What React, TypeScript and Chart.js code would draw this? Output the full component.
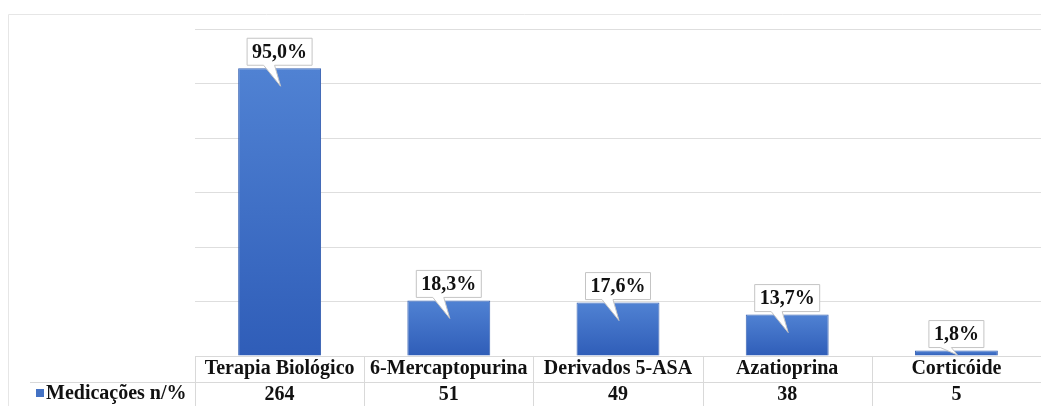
import React, { useEffect, useRef } from "react";
import { Chart, registerables } from "chart.js";

Chart.register(...registerables);

const categories = ["Terapia Biológico", "6-Mercaptopurina", "Derivados 5-ASA", "Azatioprina", "Corticóide"];
const counts = [264, 51, 49, 38, 5];
const percentLabels = ["95,0%", "18,3%", "17,6%", "13,7%", "1,8%"];
const seriesName = "Medicações n/%";
const yMax = 300;
const yStep = 50;

const FONT = 'bold 20px "Liberation Serif", "Times New Roman", serif';
const GRID = "#dedede";

const tablePlugin = {
  id: "tableAndCallouts",
  afterDatasetsDraw(chart: any) {
    const { ctx, chartArea } = chart;
    const meta = chart.getDatasetMeta(0);
    const yScale = chart.scales.y;
    const base = yScale.getPixelForValue(0);
    ctx.save();
    ctx.font = FONT;
    ctx.textAlign = "center";
    ctx.textBaseline = "middle";
    meta.data.forEach((bar: any, i: number) => {
      const cx = bar.x;
      const top = bar.y;
      const label = percentLabels[i];
      const tw = ctx.measureText(label).width;
      const w = tw + 10;
      const h = 27;
      const bottom = top - 3;
      const L = cx - w / 2;
      const R = cx + w / 2;
      const T = bottom - h;
      const tipY = Math.min(bottom + 21, base - 1);
      ctx.beginPath();
      ctx.moveTo(L, T);
      ctx.lineTo(R, T);
      ctx.lineTo(R, bottom);
      ctx.lineTo(cx - 5, bottom);
      ctx.lineTo(cx + 1, tipY);
      ctx.lineTo(cx - 16, bottom);
      ctx.lineTo(L, bottom);
      ctx.closePath();
      ctx.fillStyle = "#ffffff";
      ctx.fill();
      ctx.strokeStyle = "#c4c4c4";
      ctx.lineWidth = 1;
      ctx.stroke();
      ctx.fillStyle = "#111111";
      ctx.fillText(label, cx, T + h / 2 + 1);
    });
    ctx.restore();
  },
  afterDraw(chart: any) {
    const { ctx, chartArea } = chart;
    const xScale = chart.scales.x;
    const n = categories.length;
    const left = chartArea.left;
    const right = chartArea.right;
    const colW = (right - left) / n;
    const y0 = chartArea.bottom;
    const rowSep = y0 + 26;
    const yEnd = chart.height;
    ctx.save();
    // outer frame
    ctx.strokeStyle = "#e6e6e6";
    ctx.lineWidth = 1;
    ctx.beginPath();
    ctx.moveTo(8.5, chart.height);
    ctx.lineTo(8.5, 14.5);
    ctx.lineTo(chart.width, 14.5);
    ctx.stroke();
    // table lines
    ctx.strokeStyle = "#d9d9d9";
    ctx.beginPath();
    ctx.moveTo(left, Math.round(y0) + 0.5);
    ctx.lineTo(right, Math.round(y0) + 0.5);
    ctx.moveTo(30, rowSep + 0.5);
    ctx.lineTo(right, rowSep + 0.5);
    for (let k = 0; k <= n; k++) {
      const x = Math.round(left + colW * k) + 0.5;
      ctx.moveTo(x, y0);
      ctx.lineTo(x, yEnd);
    }
    ctx.stroke();
    // texts
    ctx.font = FONT;
    ctx.fillStyle = "#111111";
    ctx.textAlign = "center";
    ctx.textBaseline = "middle";
    categories.forEach((c, i) => {
      const cx = xScale.getPixelForValue(i);
      ctx.fillText(c, cx, y0 + 13);
      ctx.fillText(String(counts[i]), cx, rowSep + 13);
    });
    // legend key
    ctx.fillStyle = "#4472c4";
    ctx.fillRect(36, rowSep + 7, 8, 8);
    ctx.fillStyle = "#111111";
    ctx.textAlign = "left";
    ctx.fillText(seriesName, 46, rowSep + 12);
    ctx.restore();
  },
};

export default function App() {
  const ref = useRef<HTMLCanvasElement | null>(null);
  useEffect(() => {
    if (!ref.current) return;
    const chart = new Chart(ref.current, {
      type: "bar",
      data: {
        labels: categories,
        datasets: [
          {
            label: seriesName,
            data: counts,
            backgroundColor: (c: any) => {
              const chart = c.chart;
              const y = chart.scales?.y;
              if (!y || c.dataIndex === undefined) return "#4472c4";
              const top = y.getPixelForValue(counts[c.dataIndex]);
              const bot = y.getPixelForValue(0);
              if (!isFinite(top) || !isFinite(bot) || bot - top < 1) return "#3d69bf";
              const g = chart.ctx.createLinearGradient(0, top, 0, bot);
              g.addColorStop(0, "#5082d3");
              g.addColorStop(1, "#2f5db8");
              return g;
            },
            borderColor: "#3a64b4",
            borderWidth: 1,
            categoryPercentage: 1,
            barPercentage: 0.49,
          },
        ],
      },
      options: {
        responsive: false,
        animation: false,
        devicePixelRatio: 1,
        layout: { padding: { left: 195, right: 0, top: 29, bottom: 50 } },
        plugins: { legend: { display: false }, tooltip: { enabled: false } },
        scales: {
          x: { display: false },
          y: {
            min: 0,
            max: yMax,
            ticks: { display: false, stepSize: yStep },
            grid: { color: (c: any) => (c.tick && c.tick.value === 0 ? "rgba(0,0,0,0)" : GRID), drawTicks: false },
            border: { display: false },
            afterFit: (s: any) => {
              s.width = 0;
            },
          },
        },
      },
      plugins: [tablePlugin],
    });
    return () => chart.destroy();
  }, []);
  return (
    <div style={{ position: "absolute", left: 0, top: 0, width: 1041, height: 406, background: "#fff" }}>
      <canvas ref={ref} width={1041} height={406} style={{ display: "block" }} />
    </div>
  );
}
